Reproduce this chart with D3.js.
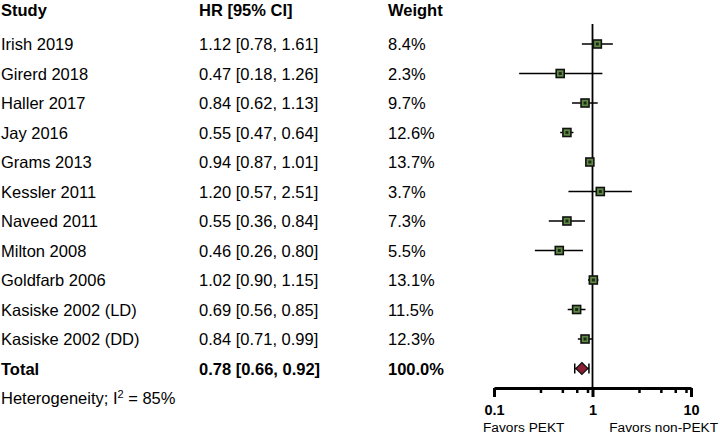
<!DOCTYPE html>
<html>
<head>
<meta charset="utf-8">
<script src="https://cdn.jsdelivr.net/npm/d3@7"></script>
<style>
  body { margin: 0; background: #fff; }
  svg { font-family: "Liberation Sans", Arial, sans-serif; }
</style>
</head>
<body>
<div id="chart"></div>
<script>
// Study data
const studies = ["Irish 2019", "Girerd 2018", "Haller 2017", "Jay 2016", "Grams 2013",
  "Kessler 2011", "Naveed 2011", "Milton 2008", "Goldfarb 2006",
  "Kasiske 2002 (LD)", "Kasiske 2002 (DD)"];
const hr = [1.12, 0.47, 0.84, 0.55, 0.94, 1.20, 0.55, 0.46, 1.02, 0.69, 0.84];
const lower = [0.78, 0.18, 0.62, 0.47, 0.87, 0.57, 0.36, 0.26, 0.90, 0.56, 0.71];
const upper = [1.61, 1.26, 1.13, 0.64, 1.01, 2.51, 0.84, 0.80, 1.15, 0.85, 0.99];
const weights = [8.4, 2.3, 9.7, 12.6, 13.7, 3.7, 7.3, 5.5, 13.1, 11.5, 12.3];

// Pooled estimate
const total = { label: "Total", hr: 0.78, lo: 0.66, hi: 0.92, weight: 100.0 };
const heterogeneityI2 = 85;

const majorTicks = [0.1, 1, 10];
const minorTicks = [0.3, 0.5, 0.7, 0.9, 3, 5, 7, 9];

const width = 720, height = 436;
const fontSize = 16.5;

const rows = studies.map((s, i) => ({
  label: s, hr: hr[i], lo: lower[i], hi: upper[i], weight: weights[i]
}));

const svg = d3.select("#chart").append("svg")
  .attr("width", width)
  .attr("height", height);

// scales
const x = d3.scaleLog().domain([0.1, 10]).range([494, 691]);
const y = d3.scaleLinear().domain([0, 12]).range([44, 398]);
const axisY = 388;

const fmt2 = d3.format(".2f");
const fmt1 = d3.format(".1f");
const ciText = d => `${fmt2(d.hr)} [${fmt2(d.lo)}, ${fmt2(d.hi)}]`;

// column headers
const headers = [
  { text: "Study", x: 1 },
  { text: "HR [95% CI]", x: 199 },
  { text: "Weight", x: 388 }
];
svg.append("g").selectAll("text")
  .data(headers)
  .enter()
  .append("text")
  .attr("x", d => d.x)
  .attr("y", 16)
  .style("font-size", fontSize + "px")
  .style("font-weight", "bold")
  .text(d => d.text);

// study rows text
const textRows = svg.append("g").selectAll("g")
  .data(rows.concat([total]))
  .enter()
  .append("g")
  .attr("transform", (d, i) => `translate(0,${y(i) + 6})`)
  .style("font-size", fontSize + "px")
  .style("font-weight", d => d === total ? "bold" : "normal");

textRows.append("text").attr("x", 1).text(d => d.label);
textRows.append("text").attr("x", 199).text(ciText);
textRows.append("text").attr("x", 388).text(d => fmt1(d.weight) + "%");

// heterogeneity line
const het = svg.append("text")
  .attr("x", 1)
  .attr("y", y(12) + 6)
  .style("font-size", fontSize + "px");
het.append("tspan").text("Heterogeneity; I");
het.append("tspan").attr("dy", -6).style("font-size", "11px").text("2");
het.append("tspan").attr("dy", 6).text(` = ${heterogeneityI2}%`);

// line of no effect
svg.append("line")
  .attr("x1", x(1)).attr("x2", x(1))
  .attr("y1", 24).attr("y2", axisY)
  .attr("stroke", "#000")
  .attr("stroke-width", 1.8);

// confidence intervals
svg.append("g").selectAll("line")
  .data(rows)
  .enter()
  .append("line")
  .attr("x1", d => x(d.lo))
  .attr("x2", d => x(d.hi))
  .attr("y1", (d, i) => y(i))
  .attr("y2", (d, i) => y(i))
  .attr("stroke", "#000")
  .attr("stroke-width", 1.5);

// point estimates
const box = 8;
svg.append("g").selectAll("rect")
  .data(rows)
  .enter()
  .append("rect")
  .attr("x", d => x(d.hr) - box / 2)
  .attr("y", (d, i) => y(i) - box / 2)
  .attr("width", box)
  .attr("height", box)
  .attr("fill", "#5f8a45")
  .attr("stroke", "#111")
  .attr("stroke-width", 1.6);

svg.append("g").selectAll("rect")
  .data(rows)
  .enter()
  .append("rect")
  .attr("x", d => x(d.hr) - 1.5)
  .attr("y", (d, i) => y(i) - 1.5)
  .attr("width", 3)
  .attr("height", 3)
  .attr("fill", "#1d2a14");

// pooled estimate: whisker with caps and diamond
const ty = y(11);
const pooled = svg.append("g");
pooled.append("line")
  .attr("x1", x(total.lo)).attr("x2", x(total.hi))
  .attr("y1", ty).attr("y2", ty)
  .attr("stroke", "#000").attr("stroke-width", 1.5);
pooled.selectAll("line.cap")
  .data([total.lo, total.hi])
  .enter()
  .append("line")
  .attr("class", "cap")
  .attr("x1", d => x(d)).attr("x2", d => x(d))
  .attr("y1", ty - 5).attr("y2", ty + 5)
  .attr("stroke", "#000").attr("stroke-width", 1.5);
const dx = x(total.hr), ds = 6;
pooled.append("path")
  .attr("d", `M${dx},${ty - ds}L${dx + ds},${ty}L${dx},${ty + ds}L${dx - ds},${ty}Z`)
  .attr("fill", "#8c1f33")
  .attr("stroke", "#111")
  .attr("stroke-width", 1.2);

// x axis
const axis = svg.append("g")
  .attr("class", "x-axis")
  .attr("transform", `translate(0,${axisY})`)
  .call(d3.axisBottom(x).tickValues(majorTicks).tickSize(9).tickSizeOuter(0)
    .tickFormat(d3.format("~g")));
axis.select(".domain").attr("stroke-width", 3.2);
axis.selectAll(".tick line").attr("stroke-width", 3);
axis.selectAll(".tick text")
  .attr("y", 17)
  .style("font-family", "'Liberation Sans', Arial, sans-serif")
  .style("font-size", "14.5px")
  .style("font-weight", "bold")
  .attr("fill", "#000");

svg.append("g").selectAll("line")
  .data(minorTicks)
  .enter()
  .append("line")
  .attr("x1", d => x(d)).attr("x2", d => x(d))
  .attr("y1", axisY).attr("y2", axisY + 5)
  .attr("stroke", "#000")
  .attr("stroke-width", 2.5);

// direction labels
svg.append("text")
  .attr("x", 483)
  .attr("y", 432)
  .style("font-size", "13.7px")
  .text("Favors PEKT");
svg.append("text")
  .attr("x", 718)
  .attr("y", 432)
  .attr("text-anchor", "end")
  .style("font-size", "13.7px")
  .text("Favors non-PEKT");
</script>
</body>
</html>
